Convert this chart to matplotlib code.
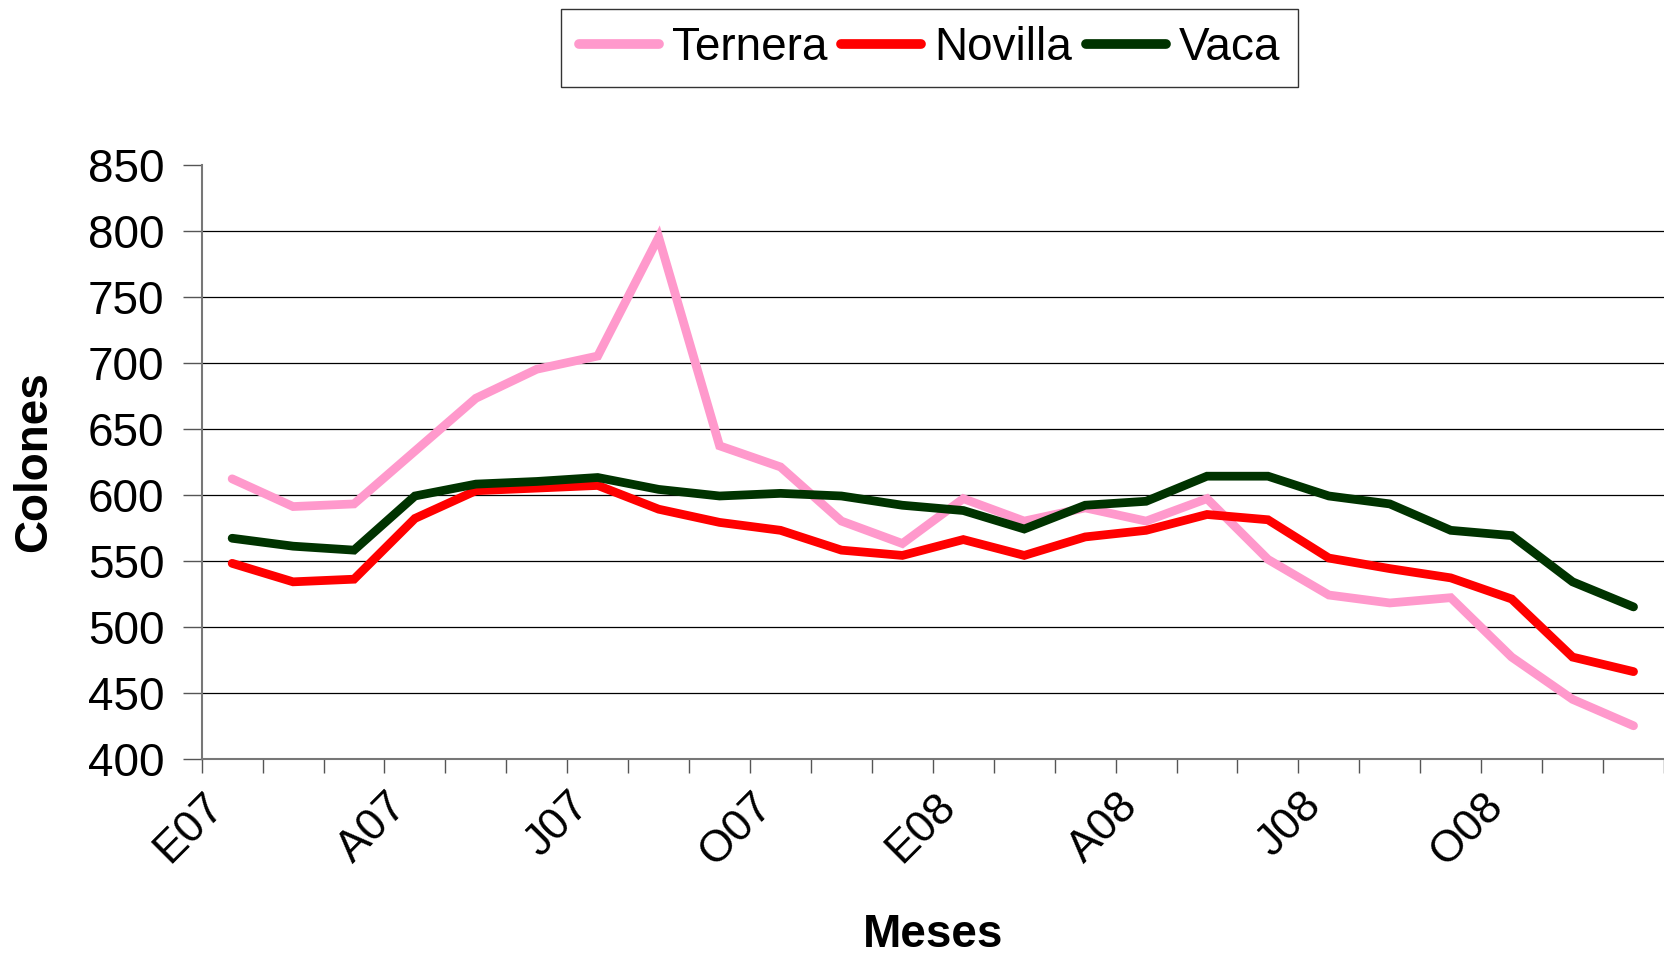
import matplotlib
matplotlib.use("Agg")
import matplotlib.pyplot as plt
from matplotlib.transforms import ScaledTranslation

plt.rcParams['font.family'] = ['Liberation Sans', 'DejaVu Sans']

months = ["E07", "F07", "M07", "A07", "M07", "J07", "J07", "A07", "S07", "O07", "N07", "D07",
          "E08", "F08", "M08", "A08", "M08", "J08", "J08", "A08", "S08", "O08", "N08", "D08"]
ternera = [612, 591, 593, 633, 673, 695, 705, 795, 637, 621, 580, 563,
           597, 580, 590, 580, 597, 551, 524, 518, 522, 477, 445, 425]
novilla = [548, 534, 536, 582, 603, 605, 607, 589, 579, 573, 558, 554,
           566, 554, 568, 573, 585, 581, 552, 544, 537, 521, 477, 466]
vaca = [567, 561, 558, 599, 608, 610, 613, 604, 599, 601, 599, 592,
        588, 574, 592, 595, 614, 614, 599, 593, 573, 569, 534, 515]
series_names = ["Ternera", "Novilla", "Vaca"]
colors = ["#FF99CC", "#FF0000", "#003300"]
yticks = [400, 450, 500, 550, 600, 650, 700, 750, 800, 850]

fig = plt.figure(figsize=(16.64, 9.6), dpi=100)
ax = fig.add_axes([0.1212, 0.2096, 0.8788, 0.6190])

x = list(range(len(months)))
lines = []
for name, vals, c in zip(series_names, [ternera, novilla, vaca], colors):
    ln, = ax.plot(x, vals, color=c, lw=6.3, solid_capstyle='round',
                  solid_joinstyle='miter', label=name, zorder=3)
    lines.append(ln)

ax.set_xlim(-0.5, len(months) - 0.5)
ax.set_ylim(400, 850)
ax.set_yticks(yticks)
ax.set_yticklabels([str(v) for v in yticks])

# category ticks: marks at boundaries, labels at centres every 3rd
ax.set_xticks([i - 0.5 for i in range(len(months) + 1)], minor=True)
ax.set_xticks(x[::3])
ax.set_xticklabels(months[::3], rotation=45, ha='right', va='top',
                   rotation_mode='anchor')
ax.tick_params(axis='x', which='major', length=0, pad=19, labelsize=32)
ax.tick_params(axis='x', which='minor', length=14 * 0.72, width=1.0, color='#555555')
ax.tick_params(axis='y', length=19 * 0.72, width=1.0, color='#555555', pad=13, labelsize=33)
off = ScaledTranslation(-0.29, 0, fig.dpi_scale_trans)
for lab in ax.get_xticklabels():
    lab.set_transform(lab.get_transform() + off)

ax.yaxis.grid(True, color='black', lw=0.9)
gl = ax.get_ygridlines()
gl[-1].set_visible(False)
gl[0].set_visible(False)
ax.set_axisbelow(True)

for s in ['top', 'right']:
    ax.spines[s].set_visible(False)
for s in ['left', 'bottom']:
    ax.spines[s].set_color('#777777')
    ax.spines[s].set_linewidth(1.5)

fig.text(0.5 * (0.1212 + 1.0), 1 - 935 / 960, "Meses", ha='center', va='center',
         fontsize=33, fontweight='bold')
fig.text(34 / 1664, 1 - 461.6 / 960, "Colones", ha='center', va='center',
         rotation=90, fontsize=33, fontweight='bold')

leg = fig.legend(handles=lines, labels=series_names, loc='center',
                 bbox_to_anchor=(929.5 / 1664, 1 - 48 / 960), ncol=3,
                 fontsize=33, frameon=True, fancybox=False, handlelength=1.75,
                 handletextpad=0.28, columnspacing=0.3, borderpad=0.38,
                 borderaxespad=0)
leg.get_frame().set_edgecolor('black')
leg.get_frame().set_linewidth(1.0)
for h in leg.legend_handles:
    h.set_linewidth(7.0)

fig.savefig("out.png", dpi=100)
